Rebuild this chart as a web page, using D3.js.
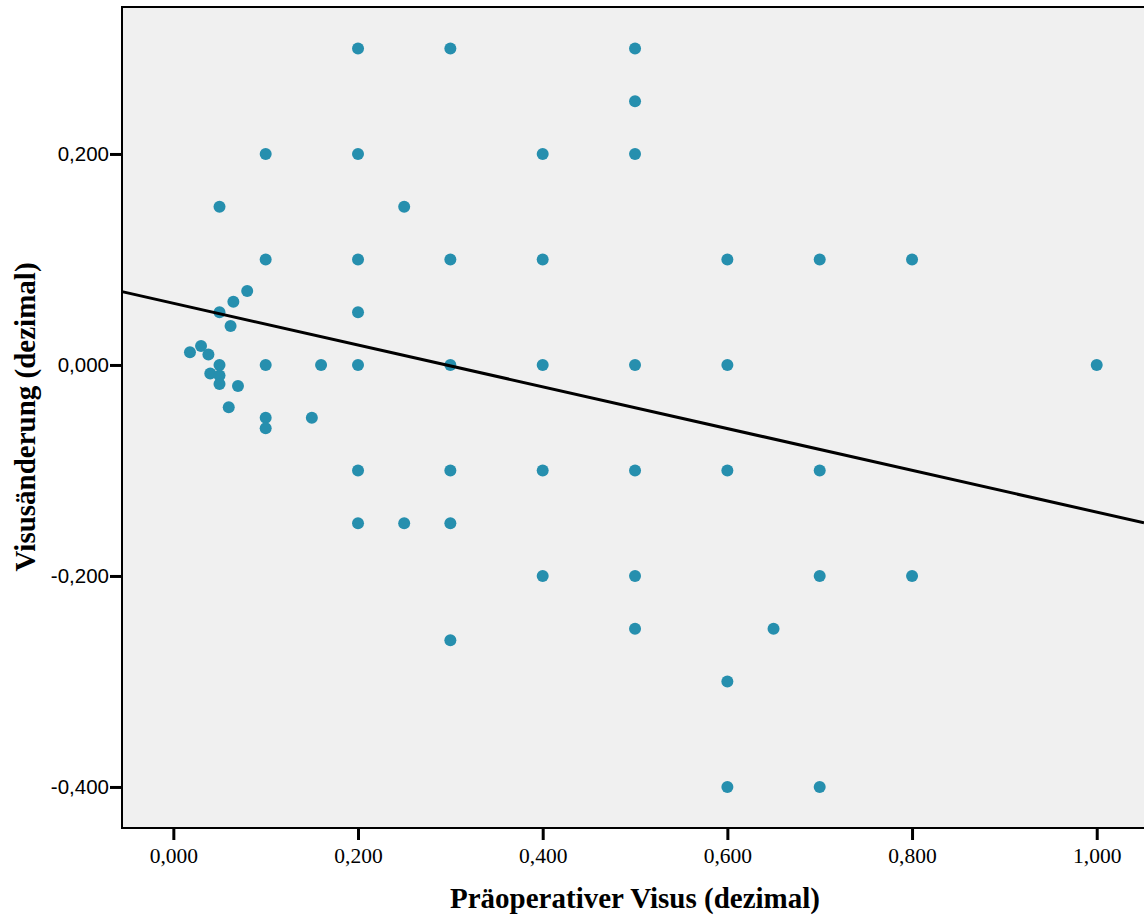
<!DOCTYPE html>
<html><head><meta charset="utf-8">
<script src="https://cdn.jsdelivr.net/npm/d3@7"></script>
<style>body{margin:0;background:#fff}svg{display:block}</style>
</head><body><svg id="c" width="1144" height="917"></svg>
<script>
// Präoperativer Visus (x) and Visusänderung (y)
const visusPre = [
  0.018,0.030,0.038,0.040,0.050,0.050,0.050,0.050,0.050,0.060,0.062,0.065,0.070,0.080,
  0.100,0.100,0.100,0.100,0.100,0.150,0.160,
  0.200,0.200,0.200,0.200,0.200,0.200,0.200,
  0.250,0.250,
  0.300,0.300,0.300,0.300,0.300,0.300,
  0.400,0.400,0.400,0.400,0.400,
  0.500,0.500,0.500,0.500,0.500,0.500,0.500,
  0.600,0.600,0.600,0.600,0.600,0.650,
  0.700,0.700,0.700,0.700,
  0.800,0.800,1.000
];
const visusDelta = [
  0.012,0.018,0.010,-0.008,0.150,0.050,0.000,-0.010,-0.018,-0.040,0.037,0.060,-0.020,0.070,
  0.200,0.100,0.000,-0.050,-0.060,-0.050,0.000,
  0.300,0.200,0.100,0.050,0.000,-0.100,-0.150,
  0.150,-0.150,
  0.300,0.100,0.000,-0.100,-0.150,-0.261,
  0.200,0.100,0.000,-0.100,-0.200,
  0.300,0.250,0.200,0.000,-0.100,-0.200,-0.250,
  0.100,0.000,-0.100,-0.300,-0.400,-0.250,
  0.100,-0.100,-0.200,-0.400,
  0.100,-0.200,0.000
];
const fitIntercept = 0.0585;
const fitSlope = -0.198;
const xTicks = [0,0.2,0.4,0.6,0.8,1.0];
const yTicks = [-0.4,-0.2,0,0.2];
const xTitle = "Präoperativer Visus (dezimal)";
const yTitle = "Visusänderung (dezimal)";

const svg = d3.select("#c");
const L = 122, T = 7, R = 1144, B = 828;
const x = d3.scaleLinear().domain([-0.0556, 1.0512]).range([L, R]);
const y = d3.scaleLinear().domain([-0.4389, 0.3393]).range([B, T]);
const fmt = v => d3.format(".3f")(v).replace(".", ",").replace("−","-");

svg.append("rect").attr("x", L).attr("y", T).attr("width", R - L).attr("height", B - T).attr("fill", "#f0f0f0");

const g = svg.append("g");
visusPre.forEach((v, i) => {
  g.append("circle").attr("cx", x(v)).attr("cy", y(visusDelta[i])).attr("r", 6).attr("fill", "#268fae");
});

const xd = x.domain();
svg.append("line")
  .attr("x1", x(xd[0])).attr("y1", y(fitIntercept + fitSlope * xd[0]))
  .attr("x2", x(xd[1])).attr("y2", y(fitIntercept + fitSlope * xd[1]))
  .attr("stroke", "#000").attr("stroke-width", 3);

// frame
svg.append("path").attr("d", `M${R+2},${T}H${L}V${B}H${R+2}`).attr("fill", "none").attr("stroke", "#000").attr("stroke-width", 2);

const xa = svg.append("g").attr("transform", `translate(0,${B})`)
  .call(d3.axisBottom(x).tickValues(xTicks).tickSize(12).tickPadding(8).tickFormat(fmt));
xa.select(".domain").remove();
xa.selectAll("line").attr("stroke-width", 3);
xa.selectAll("text").attr("font-family", "Liberation Serif, Times New Roman, serif").attr("font-size", 21.5).attr("fill", "#000");

const ya = svg.append("g").attr("transform", `translate(${L},0)`)
  .call(d3.axisLeft(y).tickValues(yTicks).tickSize(12).tickPadding(1).tickFormat(fmt));
ya.select(".domain").remove();
ya.selectAll("line").attr("stroke-width", 3);
ya.selectAll("text").attr("font-family", "Liberation Sans, Arial, sans-serif").attr("font-size", 20.5).attr("fill", "#000");

svg.append("text").attr("x", 635).attr("y", 908).attr("text-anchor", "middle")
  .attr("font-family", "Liberation Serif, Times New Roman, serif").attr("font-weight", "bold").attr("font-size", 29)
  .text(xTitle);
svg.append("text").attr("transform", "translate(35,417) rotate(-90)").attr("text-anchor", "middle")
  .attr("font-family", "Liberation Serif, Times New Roman, serif").attr("font-weight", "bold").attr("font-size", 29)
  .text(yTitle);
</script></body></html>
